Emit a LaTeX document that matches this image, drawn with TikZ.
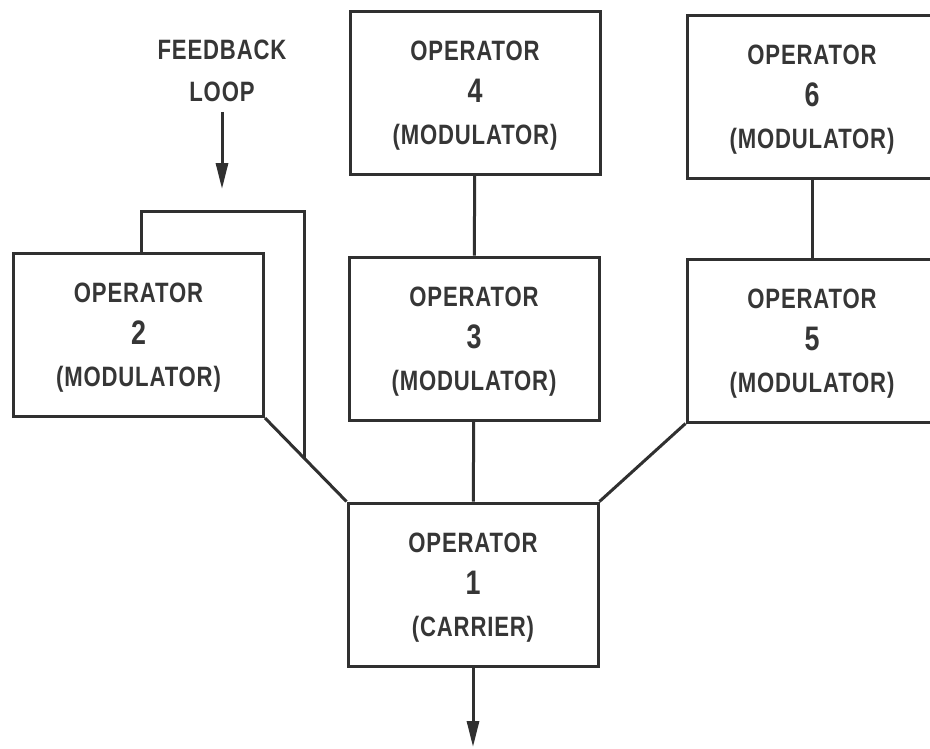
\documentclass[tikz,border=0pt]{standalone}
\usepackage{fontspec}
\usepackage{xcolor}
\usetikzlibrary{arrows.meta,calc}
\newfontfamily\opfont{Liberation Sans}[FakeStretch=0.79, LetterSpace=3]
\definecolor{lineink}{HTML}{303030}
\definecolor{textink}{HTML}{363636}
\newcommand{\opnumfont}{\fontsize{34}{42}\selectfont}
\newcommand{\opinfo}[2]{OPERATOR\\{\opnumfont #1}\\(#2)}

\begin{document}
\begin{tikzpicture}[
  x=1pt,
  y=-1pt,
  every node/.style={font=\opfont\bfseries\fontsize{28}{42}\selectfont, textink},
  opbox/.style={draw=lineink, line width=3pt, minimum width=250pt,
    minimum height=163pt, align=center, text depth=0pt, inner sep=0pt},
  link/.style={lineink, line width=3pt},
  signal/.style={link, -{Triangle[length=26pt, width=12pt]}}
]
  \useasboundingbox (0,0) rectangle (930,748);

  % ---- the six operators -----------------------------------------------
  \node[opbox] (op4) at (475,92.5) {\opinfo{4}{MODULATOR}};
  \node[opbox] (op6) at (812,96.5) {\opinfo{6}{MODULATOR}};
  \node[opbox] (op2) at (138.5,335) {\opinfo{2}{MODULATOR}};
  \node[opbox] (op3) at (474,338.5) {\opinfo{3}{MODULATOR}};
  \node[opbox] (op5) at (812,340.5) {\opinfo{5}{MODULATOR}};
  \node[opbox] (op1) at (473,584.5) {\opinfo{1}{CARRIER}};

  % ---- stacks into the carrier -----------------------------------------
  \draw[link] (op4) -- (op3);
  \draw[link] (op6) -- (op5);
  \draw[link] (op3) -- (op1);
  \draw[link] (op2.south east) -- (op1.north west);
  \draw[link] (op5.south west) -- (op1.north east);

  % ---- the feedback loop on operator 2 ---------------------------------
  \coordinate (fbjoin) at ($(op2.south east)!0.49!(op1.north west)$);
  \draw[link] ([xshift=3pt]op2.north) -- ++(0,-41) -| (fbjoin);
  \node[align=center, text depth=0pt, inner sep=0pt] (fblabel) at (222,71)
    {FEEDBACK\\LOOP};
  \coordinate (fbtip) at (222,189);
  \draw[signal, shorten <=10pt] (fblabel.south) -- (fbtip);

  % ---- output ----------------------------------------------------------
  \coordinate (out) at (473,747);
  \draw[signal] (op1) -- (out);
\end{tikzpicture}
\end{document}
